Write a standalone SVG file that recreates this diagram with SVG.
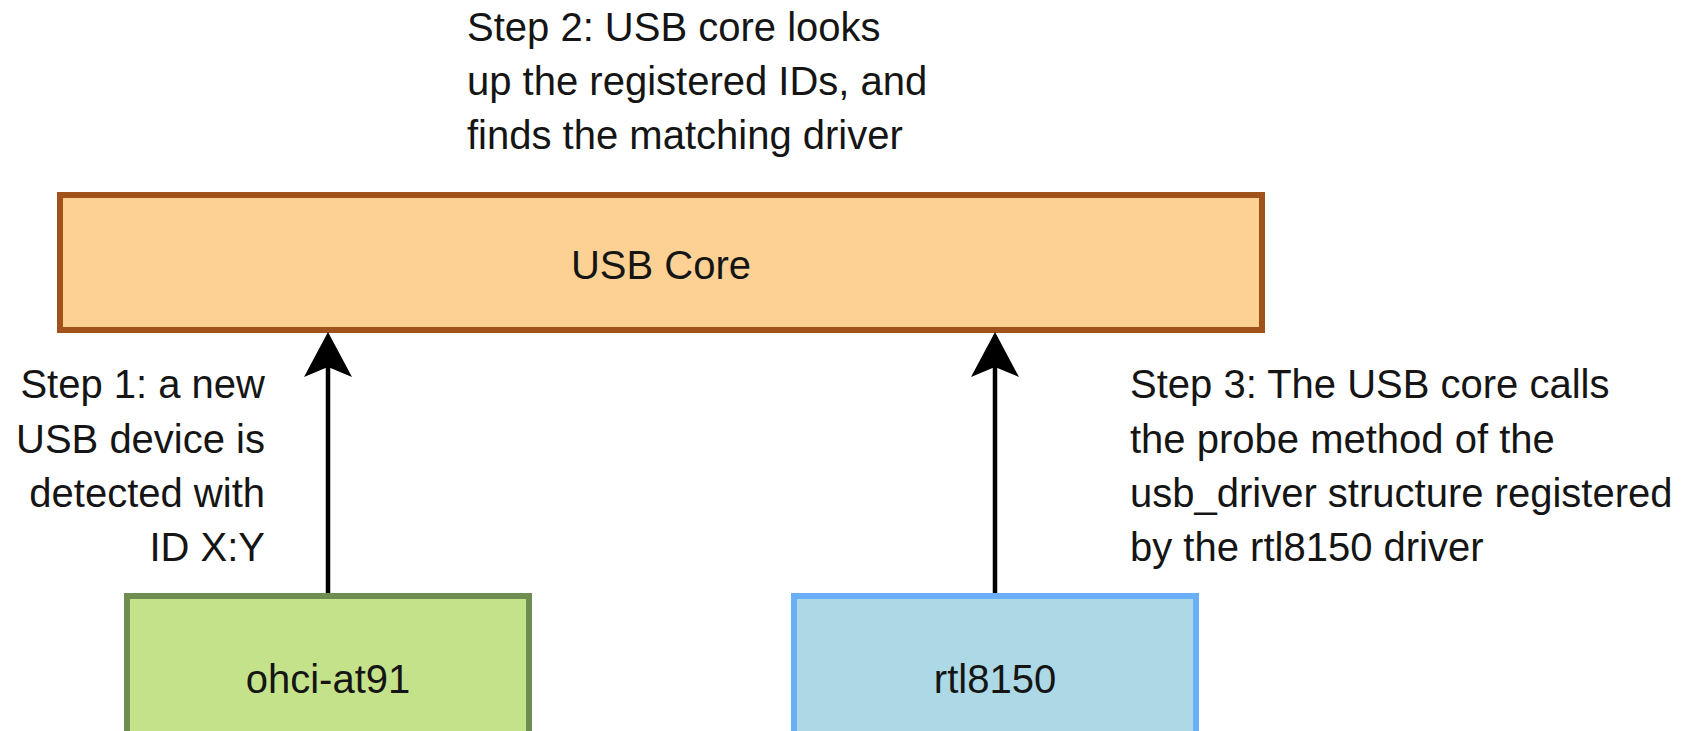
<svg xmlns="http://www.w3.org/2000/svg" width="1696" height="731" viewBox="0 0 1696 731">
<defs>
<style>
text{font-family:"Liberation Sans",Arial,sans-serif;font-size:40px;fill:#151515}
.mid{text-anchor:middle}
.end{text-anchor:end}
.core{fill:#fdd193;stroke:#a1521b;stroke-width:6}
.ohci{fill:#c4e289;stroke:#6f8d50;stroke-width:6}
.rtl{fill:#add8e6;stroke:#68aff7;stroke-width:6}
.shaft{stroke:#000;stroke-width:4.5;fill:none}
.head{fill:#000}
</style>
</defs>
<rect width="1696" height="731" fill="#fff"/>
<g id="step2-label">
<text x="467" y="41">Step 2: USB core looks</text>
<text x="467" y="95">up the registered IDs, and</text>
<text x="467" y="149">finds the matching driver</text>
</g>
<g id="usb-core">
<rect class="core" x="60" y="195" width="1202" height="135"/>
<text class="mid" x="661" y="279">USB Core</text>
</g>
<g id="connectors">
<line class="shaft" x1="328" y1="593" x2="328" y2="365"/>
<path class="head" d="M328,332 L352,377 L328,367 L304,377 Z"/>
<line class="shaft" x1="995" y1="593" x2="995" y2="365"/>
<path class="head" d="M995,332 L1019,377 L995,367 L971,377 Z"/>
</g>
<g id="step1-label">
<text class="end" x="265" y="398">Step 1: a new</text>
<text class="end" x="265" y="453">USB device is</text>
<text class="end" x="265" y="507">detected with</text>
<text class="end" x="265" y="561">ID X:Y</text>
</g>
<g id="step3-label">
<text x="1130" y="398">Step 3: The USB core calls</text>
<text x="1130" y="453">the probe method of the</text>
<text x="1130" y="507">usb_driver structure registered</text>
<text x="1130" y="561">by the rtl8150 driver</text>
</g>
<g id="ohci-at91">
<rect class="ohci" x="127" y="596" width="402" height="150"/>
<text class="mid" x="328" y="693">ohci-at91</text>
</g>
<g id="rtl8150">
<rect class="rtl" x="794" y="596" width="402" height="150"/>
<text class="mid" x="995" y="693">rtl8150</text>
</g>
</svg>
